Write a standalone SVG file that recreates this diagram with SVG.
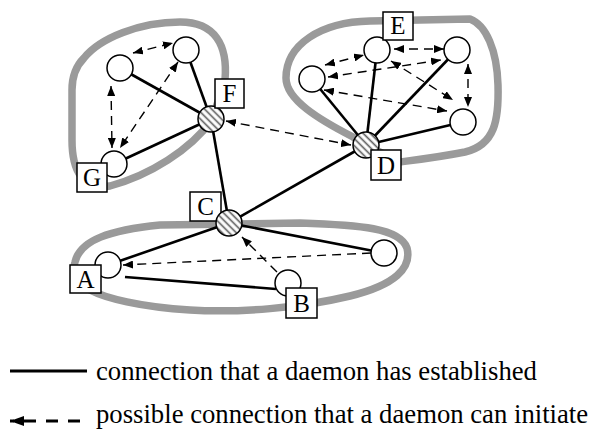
<svg xmlns="http://www.w3.org/2000/svg" width="595" height="430" viewBox="0 0 595 430">
<style>
.band{fill:none;stroke:#9a9a9a;stroke-width:7.5;stroke-linejoin:round}
.solid{stroke:#000;stroke-width:2.6;fill:none}
.dash{stroke:#000;stroke-width:1.4;fill:none;stroke-dasharray:9 6;marker-end:url(#ah)}
.bi{marker-start:url(#ah)}
.node{fill:#fff;stroke:#000;stroke-width:1.5}
.hub{fill:url(#hatch);stroke:#000;stroke-width:1.5}
.box{fill:#fff;stroke:#000;stroke-width:1.5}
.lbl{font-family:"Liberation Serif","Times New Roman",serif;font-size:25px;text-anchor:middle;fill:#000}
.leg{font-family:"Liberation Serif","Times New Roman",serif;font-size:26.7px;fill:#000}
</style>
<defs>
<pattern id="hatch" patternUnits="userSpaceOnUse" width="5" height="5" patternTransform="rotate(45)">
<rect width="5" height="5" fill="#fff"/>
<line x1="0" y1="2.5" x2="5" y2="2.5" stroke="#555" stroke-width="1.6"/>
</pattern>
<marker id="ah" viewBox="0 0 10 8" refX="10" refY="4" markerWidth="10" markerHeight="8" markerUnits="userSpaceOnUse" orient="auto-start-reverse">
<path d="M0,0 L10,4 L0,8 Z" fill="#000"/>
</marker>
<marker id="ahL" viewBox="0 0 14 10" refX="14" refY="5" markerWidth="14" markerHeight="10" markerUnits="userSpaceOnUse" orient="auto-start-reverse">
<path d="M0,0 L14,5 L0,10 Z" fill="#000"/>
</marker>
</defs>

<g id="clusters">
<path class="band" d="M84,58 C100,38 140,22 180,22 C215,22 228,45 225,80 L212,120 C190,150 150,175 110,186 C82,190 72,170 72,140 L72,90 C72,75 76,66 84,58 Z"/>
<path class="band" d="M353,137 C320,120 286,100 286,78 C286,45 320,22 370,21 L470,19 C486,25 497,50 498,85 C499,120 495,145 465,152 C440,157 415,160 400,162 L366,145 Z"/>
<path class="band" d="M75,262 C80,240 110,230 160,225 L300,223 C360,225 400,228 407,248 C412,268 395,285 350,296 C300,308 240,313 190,310 C140,307 105,298 90,290 C75,282 72,272 75,262 Z"/>
</g>

<g id="connectors">
<line class="solid" x1="211" y1="119" x2="120" y2="68"/>
<line class="solid" x1="211" y1="119" x2="186" y2="50"/>
<line class="solid" x1="211" y1="119" x2="114" y2="164"/>
<line class="solid" x1="211" y1="119" x2="229" y2="223"/>
<line class="solid" x1="366" y1="145" x2="312" y2="79"/>
<line class="solid" x1="366" y1="145" x2="377" y2="50"/>
<line class="solid" x1="366" y1="145" x2="457" y2="50"/>
<line class="solid" x1="366" y1="145" x2="463" y2="122"/>
<line class="solid" x1="366" y1="145" x2="229" y2="223"/>
<line class="solid" x1="229" y1="223" x2="108" y2="265"/>
<line class="solid" x1="229" y1="223" x2="384" y2="253"/>
<line class="solid" x1="125" y1="277" x2="276" y2="289"/>

<line class="dash bi" x1="133" y1="53" x2="173" y2="43"/>
<line class="dash bi" x1="111" y1="86" x2="112" y2="148"/>
<line class="dash bi" x1="178" y1="62" x2="120" y2="148"/>
<line class="dash bi" x1="226" y1="121" x2="351" y2="145"/>
<line class="dash bi" x1="394" y1="49" x2="444" y2="49"/>
<line class="dash bi" x1="325" y1="65" x2="364" y2="55"/>
<line class="dash bi" x1="328" y1="77" x2="441" y2="60"/>
<line class="dash bi" x1="391" y1="61" x2="453" y2="100"/>
<line class="dash bi" x1="324" y1="90" x2="447" y2="111"/>
<line class="dash bi" x1="468" y1="64" x2="468" y2="107"/>
<line class="dash" x1="371" y1="253" x2="123" y2="265"/>
<line class="dash" x1="277" y1="272" x2="242" y2="237"/>
</g>

<g id="node-g1"><circle class="node" cx="120" cy="68" r="13"/></g>
<g id="node-g2"><circle class="node" cx="186" cy="50" r="13"/></g>
<g id="node-G"><circle class="node" cx="114" cy="164" r="13"/><rect class="box" x="77" y="163" width="30" height="29"/><text class="lbl" x="92" y="186">G</text></g>
<g id="node-F"><circle class="hub" cx="211" cy="119" r="13"/><rect class="box" x="215" y="79" width="29" height="29"/><text class="lbl" x="229.5" y="102">F</text></g>
<g id="node-e1"><circle class="node" cx="312" cy="79" r="13"/></g>
<g id="node-e2"><circle class="node" cx="457" cy="50" r="13"/></g>
<g id="node-e3"><circle class="node" cx="463" cy="122" r="13"/></g>
<g id="node-E"><circle class="node" cx="377" cy="50" r="13"/><rect class="box" x="383" y="12" width="30" height="28"/><text class="lbl" x="398" y="34">E</text></g>
<g id="node-D"><circle class="hub" cx="366" cy="145" r="13"/><rect class="box" x="371" y="150" width="30" height="30"/><text class="lbl" x="386" y="174">D</text></g>
<g id="node-C"><rect class="box" x="190" y="192" width="31" height="29"/><text class="lbl" x="205.5" y="215">C</text><circle class="hub" cx="229" cy="223" r="13"/></g>
<g id="node-b1"><circle class="node" cx="384" cy="253" r="13"/></g>
<g id="node-A"><circle class="node" cx="108" cy="265" r="13"/><rect class="box" x="70" y="265" width="31" height="28"/><text class="lbl" x="85.5" y="288">A</text></g>
<g id="node-B"><circle class="node" cx="288" cy="283" r="13"/><rect class="box" x="286" y="288" width="31" height="30"/><text class="lbl" x="301.5" y="312">B</text></g>

<g id="legend">
<line x1="10" y1="371" x2="87" y2="371" stroke="#000" stroke-width="2.8"/>
<text class="leg" x="96" y="380">connection that a daemon has established</text>
<line x1="80" y1="421" x2="10" y2="421" stroke="#000" stroke-width="2.8" stroke-dasharray="12 10" marker-end="url(#ahL)"/>
<text class="leg" x="96" y="423">possible connection that a daemon can initiate</text>
</g>
</svg>
